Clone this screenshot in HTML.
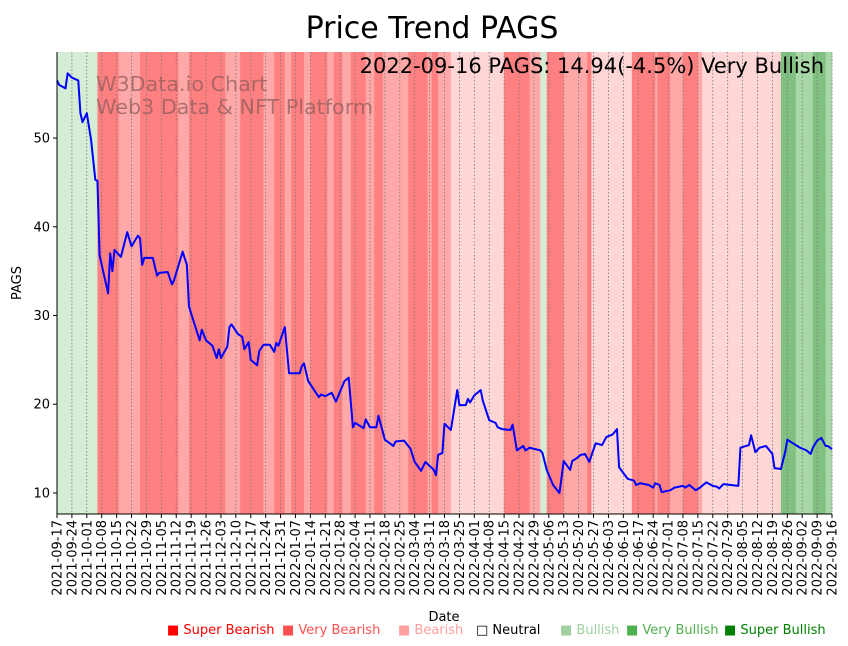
<!DOCTYPE html>
<html><head><meta charset="utf-8"><style>
html,body{margin:0;padding:0;background:#fff;}
svg{display:block;font-family:"DejaVu Sans","Liberation Sans",sans-serif;}
</style></head><body>
<svg id="chart" width="848" height="646" viewBox="0 0 848 646">
<g id="bands"></g>
<g id="grid"></g>
<text x="96" y="91" font-size="20.7" fill="#8a5a5a" fill-opacity="0.7">W3Data.io Chart</text>
<text x="96" y="114" font-size="20.7" fill="#8a5a5a" fill-opacity="0.7">Web3 Data &amp; NFT Platform</text>
<path id="line" fill="none" stroke="#0000ff" stroke-width="2" stroke-linejoin="round"/>
<line x1="57" y1="52" x2="57" y2="514" stroke="#000" stroke-width="1"/>
<line x1="57" y1="514" x2="832" y2="514" stroke="#000" stroke-width="1"/>
<g id="yticks"></g>
<g id="xticks"></g>
<text x="432" y="38" font-size="30" text-anchor="middle">Price Trend PAGS</text>
<text x="824" y="73" font-size="21" text-anchor="end">2022-09-16 PAGS: 14.94(-4.5%) Very Bullish</text>
<text transform="translate(21,283) rotate(-90)" font-size="13" text-anchor="middle">PAGS</text>
<text x="444" y="621" font-size="13" text-anchor="middle">Date</text>
<g font-size="13">
<text x="167" y="634" fill="#ff0000">■ Super Bearish</text>
<text x="282" y="634" fill="#ff5050">■ Very Bearish</text>
<text x="398" y="634" fill="#ffa0a0">■ Bearish</text>
<text x="476" y="634" fill="#000">□ Neutral</text>
<text x="560" y="634" fill="#a0d0a0">■ Bullish</text>
<text x="626" y="634" fill="#50b050">■ Very Bullish</text>
<text x="724" y="634" fill="#008000">■ Super Bullish</text>
</g>
</svg>
<script>
const bandStarts=[0,19,29,39,57,62,79,86,97,102,107,110,116,119,127,130,134,138,145,149,153,165,174,176,179,185,210,222,227,230,238,249,251,270,281,282,288,294,301,303,340,347,355,361];
const bandEnds=[19,29,39,57,62,79,86,97,102,107,110,116,119,127,130,134,138,145,149,153,165,174,176,179,185,210,222,227,230,238,249,251,270,281,282,288,294,301,303,340,347,355,361,364];
const bandTypes=['LG','R','P','R','P','R','P','R','P','R','P','R','P','R','P','R','P','R','P','R','P','R','P','R','P','L','R','P','LG','R','P','R','L','R','P','R','P','R','P','L','VB','B','VB','B'];
const priceDays=[0,1,4,5,7,10,11,12,14,16,18,19,20,24,25,26,27,30,33,35,38,39,40,41,45,47,48,52,54,55,58,59,61,62,67,68,70,73,75,76,77,80,81,82,85,87,88,90,91,94,95,97,100,102,103,104,107,109,114,115,116,118,123,124,126,129,131,135,137,139,140,144,145,147,150,151,154,158,159,163,166,168,171,173,177,178,179,181,182,185,188,189,192,193,194,196,199,200,203,206,207,209,213,214,216,219,220,222,227,228,230,233,236,238,241,242,244,246,248,250,253,256,258,261,263,264,268,271,272,274,278,280,281,283,284,288,290,294,295,297,300,302,305,308,310,311,313,320,321,325,326,328,330,333,336,337,340,342,343,347,349,352,354,355,357,359,361,362,364];
const priceValues=[56.5,56.0,55.6,57.3,56.8,56.5,52.8,51.8,52.8,49.8,45.3,45.2,36.8,32.5,37.0,35.0,37.4,36.6,39.4,37.8,39.0,38.7,35.7,36.5,36.5,34.5,34.8,34.9,33.5,34.0,36.4,37.2,35.7,31.0,27.2,28.4,27.2,26.6,25.2,26.2,25.2,26.5,28.7,29.0,27.9,27.6,26.2,27.0,25.0,24.4,26.0,26.7,26.7,25.9,26.9,26.6,28.7,23.5,23.5,24.3,24.6,22.6,20.8,21.1,20.9,21.3,20.3,22.6,23.0,17.4,17.9,17.3,18.3,17.4,17.4,18.7,16.0,15.3,15.8,15.9,15.0,13.5,12.5,13.5,12.6,12.0,14.3,14.5,17.8,17.1,21.6,19.9,19.9,20.6,20.2,21.0,21.6,20.4,18.2,17.9,17.4,17.2,17.1,17.7,14.8,15.3,14.8,15.1,14.8,14.5,12.6,10.9,10.0,13.6,12.6,13.6,13.9,14.3,14.4,13.5,15.6,15.4,16.3,16.6,17.2,12.9,11.6,11.4,10.9,11.1,10.9,10.6,11.1,10.9,10.1,10.3,10.6,10.8,10.6,10.9,10.3,10.6,11.2,10.8,10.7,10.5,11.0,10.8,15.1,15.4,16.5,14.6,15.1,15.3,14.4,12.8,12.7,14.6,16.0,15.4,15.1,14.8,14.4,15.1,15.9,16.2,15.3,15.3,14.94];
const yTickValues=[10,20,30,40,50];
const startDate='2021-09-17';
const totalDays=364;
const tickStepDays=7;

const NS='http://www.w3.org/2000/svg';
const X0=57,X1=832,Y0=514,Y1=52,YMIN=7.63,YMAX=59.7;
function xs(d){return X0+(d/totalDays)*(X1-X0);}
function ys(v){return Y0-(v-YMIN)/(YMAX-YMIN)*(Y0-Y1);}
const colors={LG:'#d5ecd5',L:'#ffd6d6',P:'#ffa8a8',R:'#ff8080',B:'#a8d8a8',VB:'#80c080'};
const bandG=document.getElementById('bands');
for(let i=0;i<bandStarts.length;i++){
  const r=document.createElementNS(NS,'rect');
  r.setAttribute('x',xs(bandStarts[i]));
  r.setAttribute('y',Y1);
  r.setAttribute('width',xs(bandEnds[i])-xs(bandStarts[i])+0.3);
  r.setAttribute('height',Y0-Y1);
  r.setAttribute('fill',colors[bandTypes[i]]);
  
  
  bandG.appendChild(r);
}
let d='';
for(let i=0;i<priceDays.length;i++){d+=(i?'L':'M')+xs(priceDays[i]).toFixed(2)+' '+ys(priceValues[i]).toFixed(2);}
document.getElementById('line').setAttribute('d',d);
const yg=document.getElementById('yticks');
yTickValues.forEach(v=>{
  const y=ys(v);
  const l=document.createElementNS(NS,'line');
  l.setAttribute('x1',X0-4);l.setAttribute('x2',X0);l.setAttribute('y1',y);l.setAttribute('y2',y);l.setAttribute('stroke','#000');
  
  
  yg.appendChild(l);
  const t=document.createElementNS(NS,'text');
  t.setAttribute('x',X0-7);t.setAttribute('y',y+4.5);t.setAttribute('font-size','13');t.setAttribute('text-anchor','end');
  t.textContent=v;
  
  
  yg.appendChild(t);
});
const xg=document.getElementById('xticks'),gg=document.getElementById('grid');
const sd=new Date(startDate+'T00:00:00Z');
for(let k=0;k*tickStepDays<=totalDays;k++){
  const day=k*tickStepDays,x=xs(day);
  const dt=new Date(sd.getTime()+day*86400000);
  const lab=dt.toISOString().slice(0,10);
  const g=document.createElementNS(NS,'line');
  g.setAttribute('x1',x);g.setAttribute('x2',x);g.setAttribute('y1',Y1);g.setAttribute('y2',Y0);
  g.setAttribute('stroke','#777');g.setAttribute('stroke-width','0.8');g.setAttribute('stroke-dasharray','1.5 2');
  
  
  gg.appendChild(g);
  const l=document.createElementNS(NS,'line');
  l.setAttribute('x1',x);l.setAttribute('x2',x);l.setAttribute('y1',Y0);l.setAttribute('y2',Y0+4);l.setAttribute('stroke','#000');
  
  
  xg.appendChild(l);
  const t=document.createElementNS(NS,'text');
  t.setAttribute('transform','translate('+(x+4.5)+','+(Y0+6)+') rotate(-90)');
  t.setAttribute('font-size','13');t.setAttribute('text-anchor','end');
  t.textContent=lab;
  
  
  xg.appendChild(t);
}
</script>
</body></html>
